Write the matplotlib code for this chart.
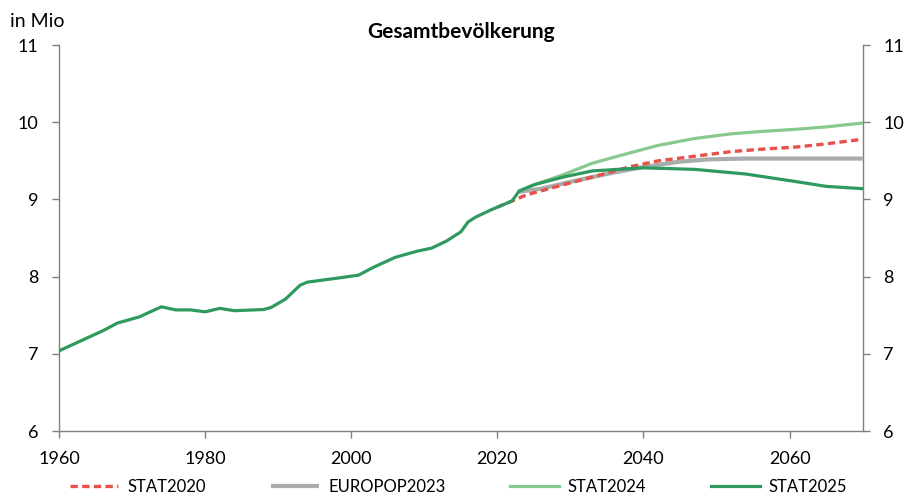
import matplotlib
matplotlib.use("Agg")
import matplotlib.pyplot as plt

plt.rcParams['font.family'] = ['Lato', 'DejaVu Sans']

title = "Gesamtbevölkerung"
unit_label = "in Mio"

years_2025 = [1960, 1963, 1966, 1968, 1971, 1974, 1976, 1978, 1980, 1982, 1984, 1988, 1989,
              1991, 1993, 1994, 1998, 2001, 2003, 2006, 2009, 2011, 2013, 2015, 2016, 2017,
              2019, 2021, 2022, 2023, 2025, 2029, 2033, 2040, 2047, 2054, 2061, 2065, 2070]
stat2025 = [7.04, 7.17, 7.30, 7.40, 7.48, 7.61, 7.57, 7.57, 7.545, 7.59, 7.56, 7.575, 7.60,
            7.71, 7.89, 7.93, 7.98, 8.02, 8.12, 8.25, 8.33, 8.37, 8.46, 8.58, 8.71, 8.77,
            8.86, 8.94, 8.98, 9.11, 9.19, 9.29, 9.37, 9.41, 9.39, 9.33, 9.23, 9.17, 9.14]

years_2024 = [2023, 2025, 2029, 2033, 2038, 2042, 2047, 2052, 2056, 2061, 2065, 2070]
stat2024 = [9.11, 9.19, 9.32, 9.47, 9.60, 9.70, 9.79, 9.85, 9.88, 9.91, 9.94, 9.99]

years_2020 = [2020, 2023, 2024, 2029, 2033, 2038, 2042, 2047, 2052, 2056, 2061, 2065, 2070]
stat2020 = [8.90, 9.02, 9.06, 9.19, 9.29, 9.42, 9.50, 9.56, 9.62, 9.65, 9.68, 9.72, 9.78]

years_ep = [2023, 2026, 2031, 2036, 2040, 2045, 2049, 2054, 2060, 2070]
europop2023 = [9.10, 9.14, 9.25, 9.35, 9.42, 9.49, 9.52, 9.53, 9.53, 9.53]

x_ticks = [1960, 1980, 2000, 2020, 2040, 2060]
y_ticks = [6, 7, 8, 9, 10, 11]

fig = plt.figure(figsize=(9.08, 4.95), dpi=100)
ax = fig.add_axes([0.065, 0.129, 0.885, 0.78])

ax.plot(years_ep, europop2023, color='#a8adab', lw=3.0, label='EUROPOP2023', zorder=2,
        solid_capstyle='butt')
ax.plot(years_2020, stat2020, color='#e8504a', lw=2.4, ls=(0, (2.2, 1.3)), label='STAT2020',
        zorder=3)
ax.plot(years_2024, stat2024, color='#88c98e', lw=2.3, label='STAT2024', zorder=4)
ax.plot(years_2025, stat2025, color='#2e9a60', lw=2.3, label='STAT2025', zorder=5)

ax.set_xlim(1960, 2070)
ax.set_ylim(6, 11)
ax.set_xticks(x_ticks)
ax.set_yticks(y_ticks)

ax.spines['top'].set_visible(False)
for s in ['left', 'right', 'bottom']:
    ax.spines[s].set_color('#808080')
    ax.spines[s].set_linewidth(1.0)

ax.tick_params(axis='both', direction='out', length=5, width=1, color='#808080',
               labelsize=13, labelcolor='black')
ax.tick_params(axis='y', right=True, labelright=True, pad=10)
ax.tick_params(axis='x', pad=9)

fig.text(0.508, 0.935, title, fontsize=15, fontweight='bold', ha='center', va='center')
fig.text(0.011, 0.957, unit_label, fontsize=14, ha='left', va='center')

handles, labels = ax.get_legend_handles_labels()
order = ['STAT2020', 'EUROPOP2023', 'STAT2024', 'STAT2025']
hmap = dict(zip(labels, handles))
fig.legend([hmap[o] for o in order], order, loc='center', bbox_to_anchor=(0.505, 0.016),
           ncol=4, frameon=False, fontsize=12, handlelength=2.9, columnspacing=3.9,
           handletextpad=0.55)

fig.savefig('out.png', dpi=100)
